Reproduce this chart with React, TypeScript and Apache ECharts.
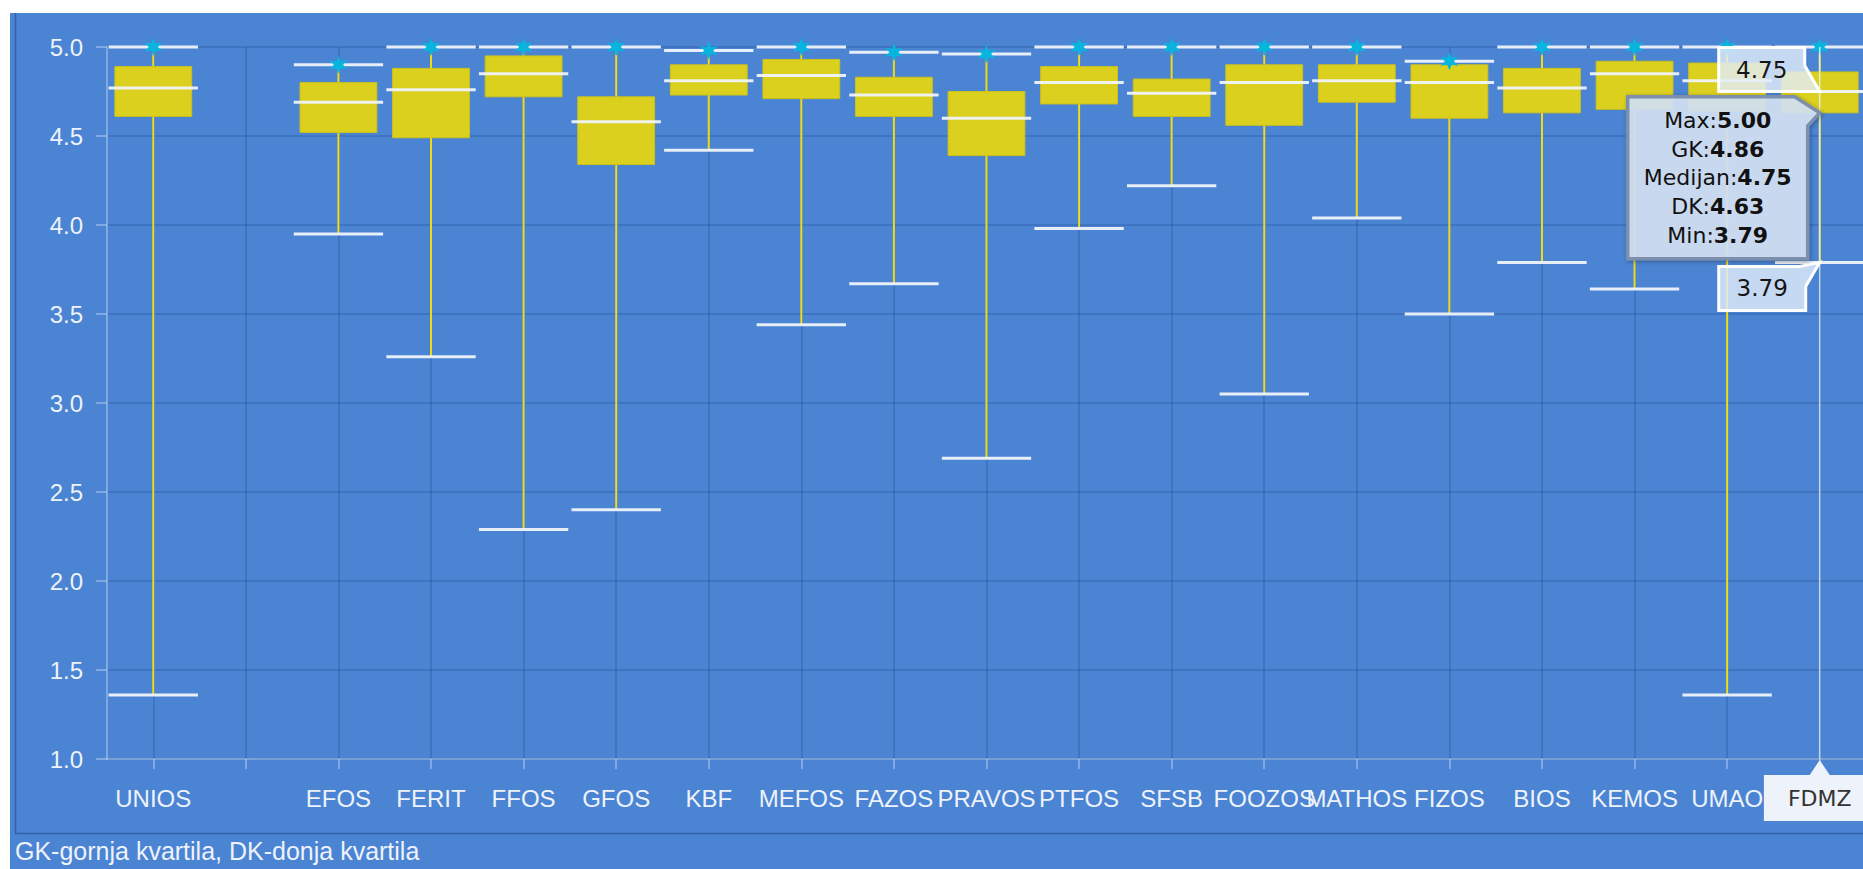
import React, { useEffect, useRef } from 'react';
import * as echarts from 'echarts';

const categories = ['UNIOS', '', 'EFOS', 'FERIT', 'FFOS', 'GFOS', 'KBF', 'MEFOS', 'FAZOS', 'PRAVOS', 'PTFOS', 'SFSB', 'FOOZOS', 'MATHOS', 'FIZOS', 'BIOS', 'KEMOS', 'UMAO', 'FDMZ'];
const minValues: (number | null)[] = [1.36, null, 3.95, 3.26, 2.29, 2.40, 4.42, 3.44, 3.67, 2.69, 3.98, 4.22, 3.05, 4.04, 3.50, 3.79, 3.64, 1.36, 3.79];
const q1Values: (number | null)[] = [4.61, null, 4.52, 4.49, 4.72, 4.34, 4.73, 4.71, 4.61, 4.39, 4.68, 4.61, 4.56, 4.69, 4.60, 4.63, 4.65, 4.64, 4.63];
const medianValues: (number | null)[] = [4.77, null, 4.69, 4.76, 4.85, 4.58, 4.81, 4.84, 4.73, 4.60, 4.80, 4.74, 4.80, 4.81, 4.80, 4.77, 4.85, 4.81, 4.75];
const q3Values: (number | null)[] = [4.89, null, 4.80, 4.88, 4.95, 4.72, 4.90, 4.93, 4.83, 4.75, 4.89, 4.82, 4.90, 4.90, 4.90, 4.88, 4.92, 4.91, 4.86];
const maxValues: (number | null)[] = [5.00, null, 4.90, 5.00, 5.00, 5.00, 4.98, 5.00, 4.97, 4.96, 5.00, 5.00, 5.00, 5.00, 4.92, 5.00, 5.00, 5.00, 5.00];

const yMin = 1;
const yMax = 5;
const yInterval = 0.5;

const tooltipIndex = 18;
const tooltipLabels = ['Max', 'GK', 'Medijan', 'DK', 'Min'];
const footnote = 'GK-gornja kvartila, DK-donja kvartila';

const STAR = 'path://M50 0L61 31L93.3 25L72 50L93.3 75L61 69L50 100L39 69L6.7 75L28 50L6.7 25L39 31Z';

export default function App() {
  const ref = useRef<HTMLDivElement>(null);

  useEffect(() => {
    if (!ref.current) return;
    const chart = echarts.init(ref.current, null, { renderer: 'svg' });
    const labelColor = '#eef2fa';
    const gridColor = 'rgba(25,60,125,0.28)';
    const axisColor = 'rgba(235,242,255,0.45)';
    const sansFont = 'Liberation Sans, Arial, sans-serif';
    const tipFont = 'DejaVu Sans, Verdana, sans-serif';

    const boxData: number[][] = [];
    const starData: number[][] = [];
    categories.forEach((_, i) => {
      if (minValues[i] == null) return;
      boxData.push([i, minValues[i] as number, q1Values[i] as number, medianValues[i] as number, q3Values[i] as number, maxValues[i] as number]);
      starData.push([i, maxValues[i] as number]);
    });

    chart.setOption({
      animation: false,
      grid: { left: 107, top: 47, width: 1759, height: 712, outerBoundsMode: 'none', containLabel: false },
      xAxis: {
        type: 'category',
        data: categories,
        boundaryGap: true,
        axisLine: { show: true, lineStyle: { color: axisColor, width: 1.5 } },
        axisTick: { show: true, alignWithLabel: true, length: 10, lineStyle: { color: axisColor, width: 1.5 } },
        splitLine: { show: true, alignWithLabel: true, lineStyle: { color: gridColor, width: 1.5 } },
        axisLabel: {
          interval: 0,
          color: labelColor,
          fontSize: 24,
          fontFamily: sansFont,
          margin: 39,
          verticalAlign: 'middle',
          hideOverlap: false,
          formatter: (v: string, idx: number) => (idx === tooltipIndex ? `{p|${v}}` : v),
          rich: {
            p: {
              fontSize: 22,
              fontFamily: tipFont,
              color: '#333333',
              backgroundColor: '#eef2fa',
              padding: [12, 24, 12, 24],
              lineHeight: 22,
            },
          },
        },
      },
      yAxis: {
        type: 'value',
        min: yMin,
        max: yMax,
        interval: yInterval,
        axisLine: { show: true, lineStyle: { color: axisColor, width: 1.5 } },
        axisTick: { show: true, length: 11, lineStyle: { color: axisColor, width: 1.5 } },
        splitLine: { show: true, lineStyle: { color: gridColor, width: 1.5 } },
        axisLabel: { color: labelColor, fontSize: 24, fontFamily: sansFont, margin: 24, formatter: (v: number) => v.toFixed(1) },
      },
      series: [
        {
          type: 'custom',
          data: boxData,
          encode: { x: 0, y: [1, 2, 3, 4, 5] },
          z: 3,
          renderItem: (params: any, api: any) => {
            const idx = api.value(0);
            const pMin = api.coord([idx, api.value(1)]);
            const pQ1 = api.coord([idx, api.value(2)]);
            const pMed = api.coord([idx, api.value(3)]);
            const pQ3 = api.coord([idx, api.value(4)]);
            const pMax = api.coord([idx, api.value(5)]);
            const band = api.size([1, 0])[0];
            const x = pMin[0];
            const boxW = band * 0.83;
            const capW = band * 0.965;
            const white = 'rgba(240,243,250,0.95)';
            return {
              type: 'group',
              children: [
                { type: 'line', shape: { x1: x, y1: pMax[1], x2: x, y2: pMin[1] }, style: { stroke: '#eedc1a', lineWidth: 2 } },
                { type: 'rect', shape: { x: x - boxW / 2, y: pQ3[1], width: boxW, height: pQ1[1] - pQ3[1] }, style: { fill: '#dcd01f', stroke: '#cbc01c', lineWidth: 1 } },
                { type: 'line', shape: { x1: x - capW / 2, y1: pMed[1], x2: x + capW / 2, y2: pMed[1] }, style: { stroke: white, lineWidth: 3 } },
                { type: 'line', shape: { x1: x - capW / 2, y1: pMax[1], x2: x + capW / 2, y2: pMax[1] }, style: { stroke: white, lineWidth: 3 } },
                { type: 'line', shape: { x1: x - capW / 2, y1: pMin[1], x2: x + capW / 2, y2: pMin[1] }, style: { stroke: white, lineWidth: 3 } },
              ],
            };
          },
        },
        {
          type: 'scatter',
          data: starData,
          symbol: STAR,
          symbolSize: 18,
          z: 4,
          itemStyle: { color: '#08b5df', opacity: 1 },
        },
      ],
    });

    const i = tooltipIndex;
    const vals = [maxValues[i], q3Values[i], medianValues[i], q1Values[i], minValues[i]] as number[];
    const [ax] = chart.convertToPixel({ gridIndex: 0 }, [i, vals[0]]) as number[];
    const yMed = (chart.convertToPixel({ gridIndex: 0 }, [i, vals[2]]) as number[])[1];
    const yQ1 = (chart.convertToPixel({ gridIndex: 0 }, [i, vals[3]]) as number[])[1];
    const yMn = (chart.convertToPixel({ gridIndex: 0 }, [i, vals[4]]) as number[])[1];
    const yTop = (chart.convertToPixel({ gridIndex: 0 }, [i, yMax]) as number[])[1];
    const yBottom = (chart.convertToPixel({ gridIndex: 0 }, [i, yMin]) as number[])[1];

    const calloutFill = 'rgba(226,236,249,0.82)';
    const richLines = tooltipLabels.map((l, k) => `{n|${l}:}{b|${vals[k].toFixed(2)}}`).join('\n');

    const mL = ax - 101, mR = ax - 15, mT = yMed - 44;
    const tL = ax - 192, tR = ax - 12, tT = yQ1 - 16, tB = tT + 162;
    const nL = ax - 101, nR = ax - 14, nT = yMn + 4, nB = yMn + 48;
    const pT = yBottom + 16;

    chart.setOption({
      graphic: {
        elements: [
          { type: 'line', z: 50, shape: { x1: 15.5, y1: 13, x2: 15.5, y2: 833 }, style: { stroke: 'rgba(25,55,115,0.45)', lineWidth: 1.5 } },
          { type: 'line', z: 50, shape: { x1: 15, y1: 833.5, x2: 1863, y2: 833.5 }, style: { stroke: 'rgba(25,55,115,0.45)', lineWidth: 1.5 } },
          { type: 'text', z: 50, x: 15, y: 851, style: { text: footnote, fill: labelColor, fontSize: 25, fontFamily: sansFont, align: 'left', verticalAlign: 'middle' } },
          { type: 'line', z: 60, shape: { x1: ax, y1: yTop, x2: ax, y2: yBottom }, style: { stroke: 'rgba(232,240,252,0.8)', lineWidth: 1.5 } },
          { type: 'polygon', z: 60, shape: { points: [[ax - 10, pT], [ax, yBottom + 1], [ax + 10, pT]] }, style: { fill: '#eef2fa' } },
          {
            type: 'polygon', z: 70,
            shape: { points: [[mL, mT], [mR, mT], [mR, yMed - 26], [ax, yMed], [mL, yMed]] },
            style: { fill: calloutFill, stroke: '#ffffff', lineWidth: 3, lineJoin: 'miter' },
          },
          { type: 'text', z: 71, x: (mL + mR) / 2, y: (mT + yMed) / 2, style: { text: vals[2].toFixed(2), fill: '#151515', fontSize: 23, fontFamily: tipFont, align: 'center', verticalAlign: 'middle' } },
          {
            type: 'polygon', z: 72,
            shape: { points: [[tL, tT], [tR - 13, tT], [ax, yQ1], [tR, yQ1 + 13], [tR, tB], [tL, tB]] },
            style: { fill: 'rgba(212,226,245,0.9)', stroke: '#7b8fac', lineWidth: 3.5, lineJoin: 'miter', shadowBlur: 4, shadowColor: 'rgba(0,0,0,0.35)', shadowOffsetX: 1, shadowOffsetY: 1 },
          },
          {
            type: 'text', z: 73, x: (tL + tR) / 2, y: (tT + tB) / 2,
            style: {
              text: richLines,
              fill: '#111',
              fontSize: 22,
              fontFamily: tipFont,
              lineHeight: 28.7,
              align: 'center',
              verticalAlign: 'middle',
              rich: {
                n: { fontSize: 22, fontFamily: tipFont, fill: '#111', lineHeight: 28.7 },
                b: { fontSize: 22, fontFamily: tipFont, fill: '#111', fontWeight: 'bold', lineHeight: 28.7 },
              },
            },
          },
          {
            type: 'polygon', z: 70,
            shape: { points: [[nL, nT], [ax - 20, nT], [ax, yMn], [nR, yMn + 24], [nR, nB], [nL, nB]] },
            style: { fill: calloutFill, stroke: '#ffffff', lineWidth: 3, lineJoin: 'miter' },
          },
          { type: 'text', z: 71, x: (nL + nR) / 2, y: (nT + nB) / 2, style: { text: vals[4].toFixed(2), fill: '#151515', fontSize: 23, fontFamily: tipFont, align: 'center', verticalAlign: 'middle' } },
        ],
      },
    });

    return () => chart.dispose();
  }, []);

  return (
    <div style={{ position: 'fixed', left: 0, top: 0, width: 1863, height: 869, background: '#ffffff', overflow: 'hidden' }}>
      <div style={{ position: 'absolute', left: 10, top: 13, right: 0, bottom: 0, background: '#4a84d3' }} />
      <div ref={ref} style={{ position: 'absolute', left: 0, top: 0, width: 1863, height: 869 }} />
    </div>
  );
}
